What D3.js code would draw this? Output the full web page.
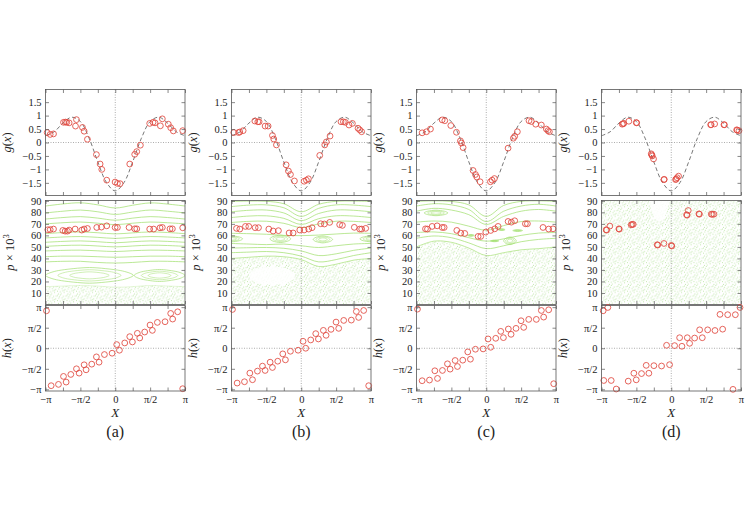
<!DOCTYPE html>
<html><head><meta charset="utf-8">
<script src="https://cdn.jsdelivr.net/npm/d3@7"></script>
<style>
body{margin:0;background:#fff}
svg{display:block}
text{font-family:"Liberation Serif","DejaVu Serif",serif;fill:#222}
</style>
</head><body><div id="chart"></div>
<script>
// ---------- tick definitions ----------
const xTicks = [-1,-0.75,-0.5,-0.25,0,0.25,0.5,0.75,1];          // in units of pi
const xTickLabels = ["−π","","−π/2","","0","","π/2","","π"];
const gTicks = [-1.5,-1,-0.5,0,0.5,1,1.5];
const gTickLabels = ["−1.5","−1","−0.5","0","0.5","1","1.5"];
const pTicks = [10,20,30,40,50,60,70,80,90];
const pTickLabels = ["10","20","30","40","50","60","70","80","90"];
const hTicks = [-1,-0.5,0,0.5,1];
const hTickLabels = ["−π","−π/2","0","π/2","π"];
const panelLetters = ["(a)","(b)","(c)","(d)"];

// ---------- dashed reference curve g(x) ----------
const curveX = [-1,-0.875,-0.75,-0.625,-0.5,-0.375,-0.25,-0.125,0,0.125,0.25,0.375,0.5,0.625,0.75,0.875,1];
const curveG = [0.25,0.40,0.72,0.94,0.78,0.16,-0.72,-1.49,-1.80,-1.49,-0.72,0.16,0.78,0.94,0.72,0.40,0.25];

// ---------- red circles: [x/pi, value] ----------
const gA = [[-0.976,0.37],[-0.933,0.30],[-0.885,0.32],[-0.742,0.75],[-0.714,0.76],[-0.695,0.75],[-0.661,0.73],[-0.570,0.61],[-0.556,0.85],[-0.470,0.56],[-0.446,0.42],[-0.399,0.12],[-0.270,-0.45],[-0.217,-0.80],[-0.193,-1.00],[-0.122,-1.40],[-0.002,-1.47],[0.031,-1.52],[0.069,-1.53],[0.208,-0.80],[0.279,-0.44],[0.308,-0.34],[0.360,-0.10],[0.494,0.71],[0.542,0.75],[0.570,0.73],[0.647,0.62],[0.675,0.88],[0.761,0.68],[0.795,0.55],[0.833,0.43],[0.967,0.44]];
const pA = [[-0.967,64.9],[-0.933,65.0],[-0.885,65.5],[-0.752,64.3],[-0.718,63.7],[-0.685,63.7],[-0.661,64.6],[-0.575,65.5],[-0.480,64.6],[-0.446,65.5],[-0.399,66.0],[-0.265,66.9],[-0.198,67.2],[-0.122,68.3],[-0.002,66.9],[0.031,66.9],[0.198,66.9],[0.279,65.7],[0.308,65.7],[0.494,65.5],[0.551,65.5],[0.642,66.6],[0.675,66.9],[0.785,65.7],[0.819,65.7],[0.967,66.6]];
const hA = [[-0.986,0.911],[-0.919,-0.911],[-0.814,-0.879],[-0.742,-0.685],[-0.704,-0.823],[-0.637,-0.637],[-0.556,-0.500],[-0.518,-0.605],[-0.446,-0.403],[-0.418,-0.524],[-0.337,-0.387],[-0.270,-0.210],[-0.232,-0.339],[-0.155,-0.153],[-0.045,-0.121],[0.021,0.089],[0.060,-0.048],[0.136,0.129],[0.208,0.282],[0.246,0.153],[0.317,0.363],[0.351,0.250],[0.422,0.395],[0.499,0.565],[0.532,0.435],[0.604,0.629],[0.714,0.645],[0.795,0.847],[0.823,0.710],[0.895,0.887],[0.967,-0.984]];

const gB = [[-0.967,0.37],[-0.900,0.37],[-0.881,0.39],[-0.833,0.44],[-0.666,0.80],[-0.623,0.77],[-0.604,0.77],[-0.518,0.61],[-0.475,0.61],[-0.413,0.26],[-0.394,0.13],[-0.356,-0.09],[-0.217,-0.83],[-0.184,-1.06],[-0.155,-1.19],[-0.098,-1.43],[0.041,-1.44],[0.074,-1.40],[0.103,-1.35],[0.265,-0.48],[0.337,-0.09],[0.360,0.02],[0.413,0.24],[0.570,0.77],[0.604,0.77],[0.632,0.75],[0.685,0.65],[0.733,0.71],[0.814,0.53],[0.838,0.47],[0.866,0.40]];
const pB = [[-0.928,66.1],[-0.881,65.5],[-0.800,67.8],[-0.752,67.8],[-0.661,66.7],[-0.613,66.7],[-0.465,65.5],[-0.403,63.8],[-0.327,64.1],[-0.174,62.1],[-0.117,62.1],[-0.021,64.7],[0.041,64.7],[0.107,65.5],[0.155,66.7],[0.279,70.1],[0.332,69.9],[0.408,71.3],[0.551,69.3],[0.590,68.7],[0.761,67.0],[0.838,65.5],[0.866,65.5],[0.924,66.1]];
const hB = [[-0.986,0.944],[-0.919,-0.847],[-0.814,-0.815],[-0.737,-0.605],[-0.699,-0.766],[-0.628,-0.556],[-0.556,-0.435],[-0.518,-0.540],[-0.446,-0.339],[-0.413,-0.468],[-0.337,-0.315],[-0.265,-0.137],[-0.227,-0.282],[-0.155,-0.073],[-0.045,-0.048],[0.026,0.169],[0.064,0.000],[0.136,0.202],[0.208,0.355],[0.246,0.226],[0.317,0.435],[0.356,0.315],[0.427,0.460],[0.499,0.637],[0.537,0.484],[0.609,0.677],[0.718,0.685],[0.790,0.895],[0.823,0.750],[0.895,0.919],[0.967,-0.911]];

const gC = [[-0.919,0.36],[-0.857,0.40],[-0.800,0.50],[-0.632,0.84],[-0.594,0.81],[-0.508,0.63],[-0.427,0.38],[-0.370,0.06],[-0.356,-0.02],[-0.332,-0.19],[-0.189,-1.04],[-0.155,-1.19],[-0.136,-1.28],[-0.088,-1.46],[0.060,-1.46],[0.084,-1.40],[0.117,-1.34],[0.313,-0.21],[0.389,0.16],[0.408,0.23],[0.446,0.40],[0.613,0.81],[0.647,0.78],[0.709,0.68],[0.790,0.65],[0.862,0.50],[0.885,0.44],[0.905,0.40]];
const pC = [[-0.871,65.7],[-0.843,65.5],[-0.776,67.8],[-0.704,68.3],[-0.632,66.9],[-0.604,66.9],[-0.422,64.3],[-0.365,62.0],[-0.308,61.7],[-0.117,59.1],[-0.079,59.1],[-0.007,62.9],[0.064,64.3],[0.122,65.7],[0.170,67.8],[0.313,72.1],[0.360,71.5],[0.408,72.7],[0.561,70.1],[0.590,70.1],[0.814,66.9],[0.895,65.5],[0.957,65.7]];
const hC = [[-0.986,0.952],[-0.919,-0.790],[-0.814,-0.774],[-0.737,-0.548],[-0.699,-0.734],[-0.628,-0.540],[-0.556,-0.379],[-0.518,-0.508],[-0.446,-0.298],[-0.413,-0.444],[-0.337,-0.290],[-0.265,-0.089],[-0.227,-0.266],[-0.155,-0.024],[-0.045,-0.016],[0.026,0.226],[0.064,0.024],[0.136,0.242],[0.208,0.411],[0.246,0.258],[0.317,0.468],[0.356,0.339],[0.427,0.484],[0.499,0.669],[0.537,0.508],[0.609,0.702],[0.718,0.702],[0.790,0.919],[0.823,0.758],[0.895,0.935],[0.967,-0.863]];

const gD = [[-0.703,0.68],[-0.690,0.70],[-0.680,0.71],[-0.608,0.79],[-0.502,0.74],[-0.495,0.73],[-0.287,-0.42],[-0.280,-0.46],[-0.272,-0.50],[-0.254,-0.61],[-0.105,-1.38],[-0.100,-1.37],[0.062,-1.38],[0.070,-1.36],[0.084,-1.31],[0.105,-1.25],[0.565,0.66],[0.572,0.66],[0.622,0.69],[0.756,0.66],[0.762,0.66],[0.938,0.47],[0.945,0.46],[0.971,0.44]];
const pD = [[-0.933,64.9],[-0.926,64.6],[-0.880,68.1],[-0.751,65.7],[-0.745,65.4],[-0.574,69.2],[-0.560,69.5],[-0.545,69.6],[-0.201,51.9],[-0.194,51.6],[-0.105,53.0],[0.000,51.3],[0.008,50.8],[0.220,77.9],[0.228,77.6],[0.244,81.6],[0.397,78.7],[0.404,78.4],[0.574,78.4],[0.590,78.3],[0.612,78.4]];
const hD = [[-0.976,0.912],[-0.909,0.992],[-0.967,-0.784],[-0.861,-0.784],[-0.789,-0.992],[-0.617,-0.800],[-0.536,-0.608],[-0.502,-0.768],[-0.426,-0.616],[-0.359,-0.416],[-0.321,-0.608],[-0.249,-0.424],[-0.139,-0.432],[-0.024,-0.400],[-0.067,0.072],[0.048,0.064],[0.120,0.256],[0.153,0.048],[0.230,0.256],[0.263,0.120],[0.335,0.248],[0.407,0.448],[0.445,0.256],[0.522,0.448],[0.627,0.432],[0.737,0.464],[0.699,0.824],[0.809,0.816],[0.919,0.816],[0.986,0.992],[0.885,-1.000]];

// ---------- green phase-space structures ----------
const lineX = [-1,-0.75,-0.5,-0.25,0,0.25,0.5,0.75,1];
const linesA = [
 [85.5,87.3,88.3,86.5,83.8,86.2,88.2,87.2,85.5],
 [79.5,81.0,82.0,80.5,78.2,80.3,82.0,81.0,79.5],
 [74.2,75.5,76.3,75.0,73.2,75.0,76.3,75.5,74.2],
 [70.0,71.0,71.6,70.6,69.3,70.6,71.6,71.0,70.0],
 [61.5,62.5,63.0,62.3,61.3,62.2,63.0,62.5,61.5],
 [57.8,58.6,59.0,58.3,57.4,58.3,59.0,58.6,57.8],
 [54.0,54.8,55.2,54.5,53.6,54.5,55.2,54.8,54.0],
 [50.5,51.2,51.5,50.8,50.0,50.8,51.5,51.2,50.5],
 [46.5,47.0,47.2,46.6,46.0,46.7,47.2,47.0,46.5],
 [41.5,42.0,42.0,41.5,41.0,41.5,42.0,42.0,41.5],
 [37.0,37.5,37.5,36.5,36.0,36.5,37.5,37.5,37.0]
];
const chaosA = [15.5,16.0,16.5,16.0,15.0,15.5,16.5,16.0,15.5];
const islandsA = [[-0.37,25.3,0.63,6.8],[0.635,25.2,0.365,5.2]];
const holesA = [];

const linesB = [
 [89.5,89.8,89.6,87.5,80.5,87.0,89.6,89.8,89.5],
 [85.0,86.3,86.5,84.0,76.5,83.5,86.5,86.3,85.0],
 [80.5,81.8,82.0,79.5,72.8,79.0,82.0,81.8,80.5],
 [75.5,76.8,77.0,74.8,69.5,74.5,77.0,76.8,75.5],
 [71.2,72.2,72.3,70.5,66.8,70.0,72.3,72.2,71.2],
 [61.8,61.5,61.0,60.0,59.8,60.3,61.2,62.0,61.8],
 [53.0,52.5,52.0,52.5,51.0,49.5,51.0,52.5,53.0],
 [49.0,49.3,49.5,48.8,46.5,42.5,44.0,47.0,49.0],
 [45.0,45.5,46.0,45.0,42.0,37.0,39.0,42.5,45.0]
];
const chaosB = [40.0,41.0,42.0,41.5,39.0,33.0,35.0,38.5,40.0];
const islandsB = [[-0.30,57.0,0.15,3.2],[0.31,56.5,0.14,3.0],[1.0,57.0,0.16,2.6],[-1.0,57.0,0.16,2.6]];
const holesB = [[-0.42,25.0,0.33,8.0]];

const linesC = [
 [89.5,90.0,89.5,86.5,76.5,86.0,89.5,90.0,89.5],
 [85.5,87.5,86.5,82.5,72.0,81.0,85.5,87.0,85.5],
 [81.0,83.5,82.0,78.0,69.5,76.5,81.0,82.5,81.0],
 [71.5,72.5,71.5,68.0,64.5,68.5,72.0,72.5,71.5],
 [62.5,63.0,61.5,58.0,55.0,57.0,60.0,62.0,62.5],
 [57.5,59.5,58.0,53.5,48.5,51.0,54.5,56.5,57.5]
];
const chaosC = [50.0,55.0,54.0,49.0,42.5,45.0,47.5,48.5,50.0];
const islandsC = [[0.34,55.3,0.09,3.3],[-0.72,79.5,0.17,2.4],[0.12,55.2,0.06,0.7],[0.22,65.0,0.05,0.7],[0.45,64.2,0.07,0.7],[-0.22,60.0,0.05,0.7]];
const holesC = [];

const linesD = [];
const chaosD = [90.3,90.3,90.3,90.3,90.3,90.3,90.3,90.3,90.3];
const islandsD = [];
const holesD = [[-0.17,92.0,0.13,20.0]];

// ---------- layout ----------
const W = 747, H = 528;
const colLeft = [45.5, 231.5, 416.5, 601.5], colW = 139.5;
const gTop = 89.5, gBot = 195.5, pTop = 200.5, pBot = 304.5, hTop = 305.5, hBot = 391;
const RED = "#e0483e", GREEN = "#a4e073", AX = "#555";

const svg = d3.select("#chart").append("svg").attr("width", W).attr("height", H);
const defs = svg.append("defs");
const patDots = [[0.5,1],[3.4,0.3],[6.2,1.9],[8.3,4.6],[1.8,3.9],[4.9,3.6],[7.1,7.3],[0.4,6.2],[3.1,6.6],[5.6,5.6],[4.1,8.6],[1.4,8.8],[8.6,1.7],[6.9,5.0],[2.5,2.2]];
const pat = defs.append("pattern").attr("id","chaos").attr("patternUnits","userSpaceOnUse").attr("width",9.5).attr("height",9.5);
patDots.forEach(d => pat.append("circle").attr("cx",d[0]).attr("cy",d[1]).attr("r",0.48).attr("fill","#a9de8c"));

const cols = [
 {g:gA,p:pA,h:hA,lines:linesA,chaos:chaosA,islands:islandsA,holes:holesA,edge:0.3},
 {g:gB,p:pB,h:hB,lines:linesB,chaos:chaosB,islands:islandsB,holes:holesB,edge:0.75},
 {g:gC,p:pC,h:hC,lines:linesC,chaos:chaosC,islands:islandsC,holes:holesC,edge:0.75},
 {g:gD,p:pD,h:hD,lines:linesD,chaos:chaosD,islands:islandsD,holes:holesD,edge:0}
];

function frame(g, x, y, top, bot, yt, ytl, xl) {
  const gx0 = x.range()[0], gx1 = x.range()[1];
  const tl = 3.5;
  g.append("g").attr("transform",`translate(0,${bot})`)
    .call(d3.axisBottom(x).tickValues(xTicks).tickSize(-tl).tickSizeOuter(0)
      .tickPadding(5).tickFormat((d,i)=> xl ? xTickLabels[i] : ""))
    .call(s=>s.select(".domain").remove());
  g.append("g").attr("transform",`translate(0,${top})`)
    .call(d3.axisTop(x).tickValues(xTicks).tickSize(-tl).tickSizeOuter(0).tickFormat(""))
    .call(s=>s.select(".domain").remove());
  g.append("g").attr("transform",`translate(${gx0},0)`)
    .call(d3.axisLeft(y).tickValues(yt).tickSize(-tl).tickSizeOuter(0).tickPadding(4)
      .tickFormat((d,i)=>ytl[i]))
    .call(s=>s.select(".domain").remove());
  g.append("g").attr("transform",`translate(${gx1},0)`)
    .call(d3.axisRight(y).tickValues(yt).tickSize(-tl).tickSizeOuter(0).tickFormat(""))
    .call(s=>s.select(".domain").remove());
  g.selectAll(".tick line").attr("stroke",AX).attr("stroke-width",0.7);
  g.selectAll(".tick text").attr("font-size",10.5).attr("fill","#222");
  g.append("rect").attr("x",gx0).attr("y",top).attr("width",gx1-gx0).attr("height",bot-top)
    .attr("fill","none").attr("stroke",AX).attr("stroke-width",0.8);
}

function zeroLines(g, x, y, top, bot, horiz) {
  g.append("line").attr("x1",x(0)).attr("x2",x(0)).attr("y1",top).attr("y2",bot)
    .attr("stroke","#8a8a8a").attr("stroke-width",0.7).attr("stroke-dasharray","1,1.5");
  if (horiz) g.append("line").attr("x1",x.range()[0]).attr("x2",x.range()[1]).attr("y1",y(0)).attr("y2",y(0))
    .attr("stroke","#8a8a8a").attr("stroke-width",0.7).attr("stroke-dasharray","1,1.5");
}

function circles(g, data, x, y) {
  g.selectAll(null).data(data).enter().append("circle")
    .attr("cx",d=>x(d[0])).attr("cy",d=>y(d[1])).attr("r",2.9)
    .attr("fill","none").attr("stroke",RED).attr("stroke-width",0.85);
}

function yTitle(g, xpos, ycen, parts) {
  const t = g.append("text").attr("transform",`translate(${xpos},${ycen}) rotate(-90)`)
    .attr("text-anchor","middle").attr("font-size",12.5);
  parts.forEach(p => {
    const ts = t.append("tspan").text(p[0]);
    if (p[1]==="i") ts.attr("font-style","italic");
    if (p[1]==="sup") ts.attr("font-size",8.5).attr("dy",-4.5);
  });
}

const islandShape = [[-1,0],[-0.7,0.62],[0,1],[0.7,0.62],[1,0],[0.7,-0.62],[0,-1],[-0.7,-0.62]];
const nest = [1, 0.72, 0.45];

cols.forEach((c, i) => {
  const x0 = colLeft[i];
  const x = d3.scaleLinear().domain([-1,1]).range([x0, x0+colW]);
  const yG = d3.scaleLinear().domain([-1.97,1.97]).range([gBot,gTop]);
  const yP = d3.scaleLinear().domain([0,90.3]).range([pBot,pTop]);
  const yH = d3.scaleLinear().domain([-1.04,1.04]).range([hBot,hTop]);
  const G = svg.append("g");

  // ---- g panel ----
  zeroLines(G, x, yG, gTop, gBot, true);
  G.append("path").datum(curveX.map((v,k)=>[v,curveG[k]]))
    .attr("d", d3.line().x(d=>x(d[0])).y(d=>yG(d[1])).curve(d3.curveCatmullRom))
    .attr("fill","none").attr("stroke","#555").attr("stroke-width",0.8).attr("stroke-dasharray","4,2.6");
  circles(G, c.g, x, yG);
  frame(G, x, yG, gTop, gBot, gTicks, gTickLabels, false);
  yTitle(G, x0-35, (gTop+gBot)/2, [["g","i"],["("],["x","i"],[")"]]);

  // ---- p panel ----
  const cid = "clipP"+i;
  defs.append("clipPath").attr("id",cid).append("rect")
    .attr("x",x0).attr("y",pTop).attr("width",colW).attr("height",pBot-pTop);
  const P = G.append("g").attr("clip-path",`url(#${cid})`);
  P.append("path").datum(lineX.map((v,k)=>[v,c.chaos[k]]))
    .attr("d", d3.area().x(d=>x(d[0])).y0(yP(0)).y1(d=>yP(d[1])).curve(d3.curveCatmullRom))
    .attr("fill","url(#chaos)");
  if (c.edge>0) P.append("path").datum(lineX.map((v,k)=>[v,c.chaos[k]]))
    .attr("d", d3.line().x(d=>x(d[0])).y(d=>yP(d[1])).curve(d3.curveCatmullRom))
    .attr("fill","none").attr("stroke",GREEN).attr("stroke-width",0.9).attr("opacity",c.edge);
  c.holes.forEach(hl => {
    P.append("ellipse").attr("cx",x(hl[0])).attr("cy",yP(hl[1]))
      .attr("rx",x(hl[0]+hl[2])-x(hl[0])).attr("ry",yP(hl[1]-hl[3])-yP(hl[1]))
      .attr("fill","#fff").attr("opacity",0.85);
  });
  const ln = d3.line().x(d=>x(d[0])).y(d=>yP(d[1])).curve(d3.curveCatmullRom);
  c.lines.forEach(L => {
    P.append("path").datum(lineX.map((v,k)=>[v,L[k]])).attr("d",ln)
      .attr("fill","none").attr("stroke",GREEN).attr("stroke-width",0.75);
  });
  const isl = d3.line().x(d=>x(d[0])).y(d=>yP(d[1])).curve(d3.curveCardinalClosed.tension(0.2));
  c.islands.forEach(is => {
    nest.forEach((s,k) => {
      P.append("path").datum(islandShape.map(q=>[is[0]+q[0]*is[2]*s, is[1]+q[1]*is[3]*s])).attr("d",isl)
        .attr("fill","none").attr("stroke",GREEN).attr("stroke-width",0.7).attr("opacity",k===0?1:0.75);
    });
  });
  zeroLines(G, x, yP, pTop, pBot, false);
  circles(G, c.p, x, yP);
  frame(G, x, yP, pTop, pBot, pTicks, pTickLabels, false);
  yTitle(G, x0-32, (pTop+pBot)/2, [["p","i"],[" × 10"],["3","sup"]]);

  // ---- h panel ----
  zeroLines(G, x, yH, hTop, hBot, true);
  circles(G, c.h, x, yH);
  frame(G, x, yH, hTop, hBot, hTicks, hTickLabels, true);
  yTitle(G, x0-35, (hTop+hBot)/2, [["h","i"],["("],["x","i"],[")"]]);

  G.append("text").attr("x",x(0)).attr("y",417).attr("text-anchor","middle")
    .attr("font-size",13).attr("font-style","italic").text("X");
  G.append("text").attr("x",x(0)).attr("y",436.5).attr("text-anchor","middle")
    .attr("font-size",16).text(panelLetters[i]);
});
</script>
</body></html>
